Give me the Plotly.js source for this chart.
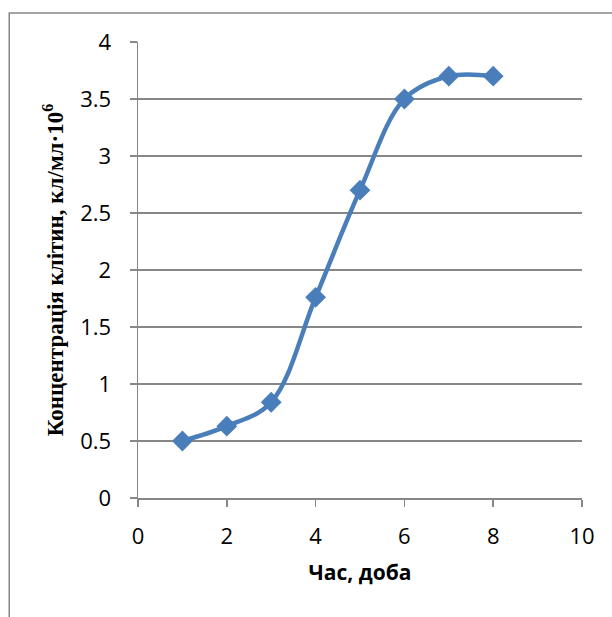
<!DOCTYPE html>
<html>
<head>
<meta charset="utf-8">
<script src="https://cdn.plot.ly/plotly-3.0.1.min.js"></script>
<style>html,body{margin:0;padding:0;background:#fff;}</style>
</head>
<body>
<div id="chart" style="width:612px;height:617px;"></div>
<script>
const days = [1, 2, 3, 4, 5, 6, 7, 8];
const concentration = [0.5, 0.63, 0.84, 1.76, 2.7, 3.5, 3.7, 3.7];
const xTitle = 'Час, доба';
const yTitle = 'Концентрація клітин, кл/мл·10<sup>6</sup>';

const gray = '#878787';
const blue = '#4a7ebb';

const trace = {
  x: days, y: concentration, type: 'scatter', mode: 'lines+markers',
  line: {color: blue, width: 4.5, shape: 'spline', smoothing: 1},
  marker: {symbol: 'diamond', size: 16, color: blue},
  hoverinfo: 'none'
};

const tickFont = {family: 'Open Sans, sans-serif', size: 22, color: '#000'};

const layout = {
  width: 612, height: 617,
  margin: {l: 137.5, r: 30, t: 42, b: 119},
  paper_bgcolor: '#fff', plot_bgcolor: '#fff',
  showlegend: false,
  xaxis: {
    range: [0, 10], dtick: 2, tick0: 0,
    showgrid: false, zeroline: false,
    showline: true, linecolor: gray, linewidth: 1.5,
    ticks: 'outside', ticklen: 7, tickcolor: gray, tickwidth: 1.5,
    tickfont: tickFont, ticklabelstandoff: 11,
    title: {text: xTitle, font: {family: 'Open Sans, sans-serif', size: 21, color: '#000', weight: 'bold'}, standoff: 16}
  },
  yaxis: {
    range: [0, 4], dtick: 0.5, tick0: 0,
    showgrid: true, gridcolor: gray, gridwidth: 1.5,
    zeroline: false,
    showline: true, linecolor: gray, linewidth: 1.5,
    ticks: 'outside', ticklen: 7, tickcolor: gray, tickwidth: 1.5,
    tickfont: tickFont, ticklabelstandoff: 14,
    title: {text: yTitle, font: {family: 'Liberation Serif, serif', size: 23, color: '#000', weight: 'bold'}, standoff: 10}
  },
  shapes: [{
    type: 'rect', xref: 'paper', yref: 'paper',
    x0: -0.29, x1: 1.3, y0: -0.4, y1: 1.0636,
    line: {color: gray, width: 1.5}, fillcolor: 'rgba(0,0,0,0)', layer: 'below'
  }]
};

Plotly.newPlot('chart', [trace], layout, {displayModeBar: false, staticPlot: true});
</script>
</body>
</html>
